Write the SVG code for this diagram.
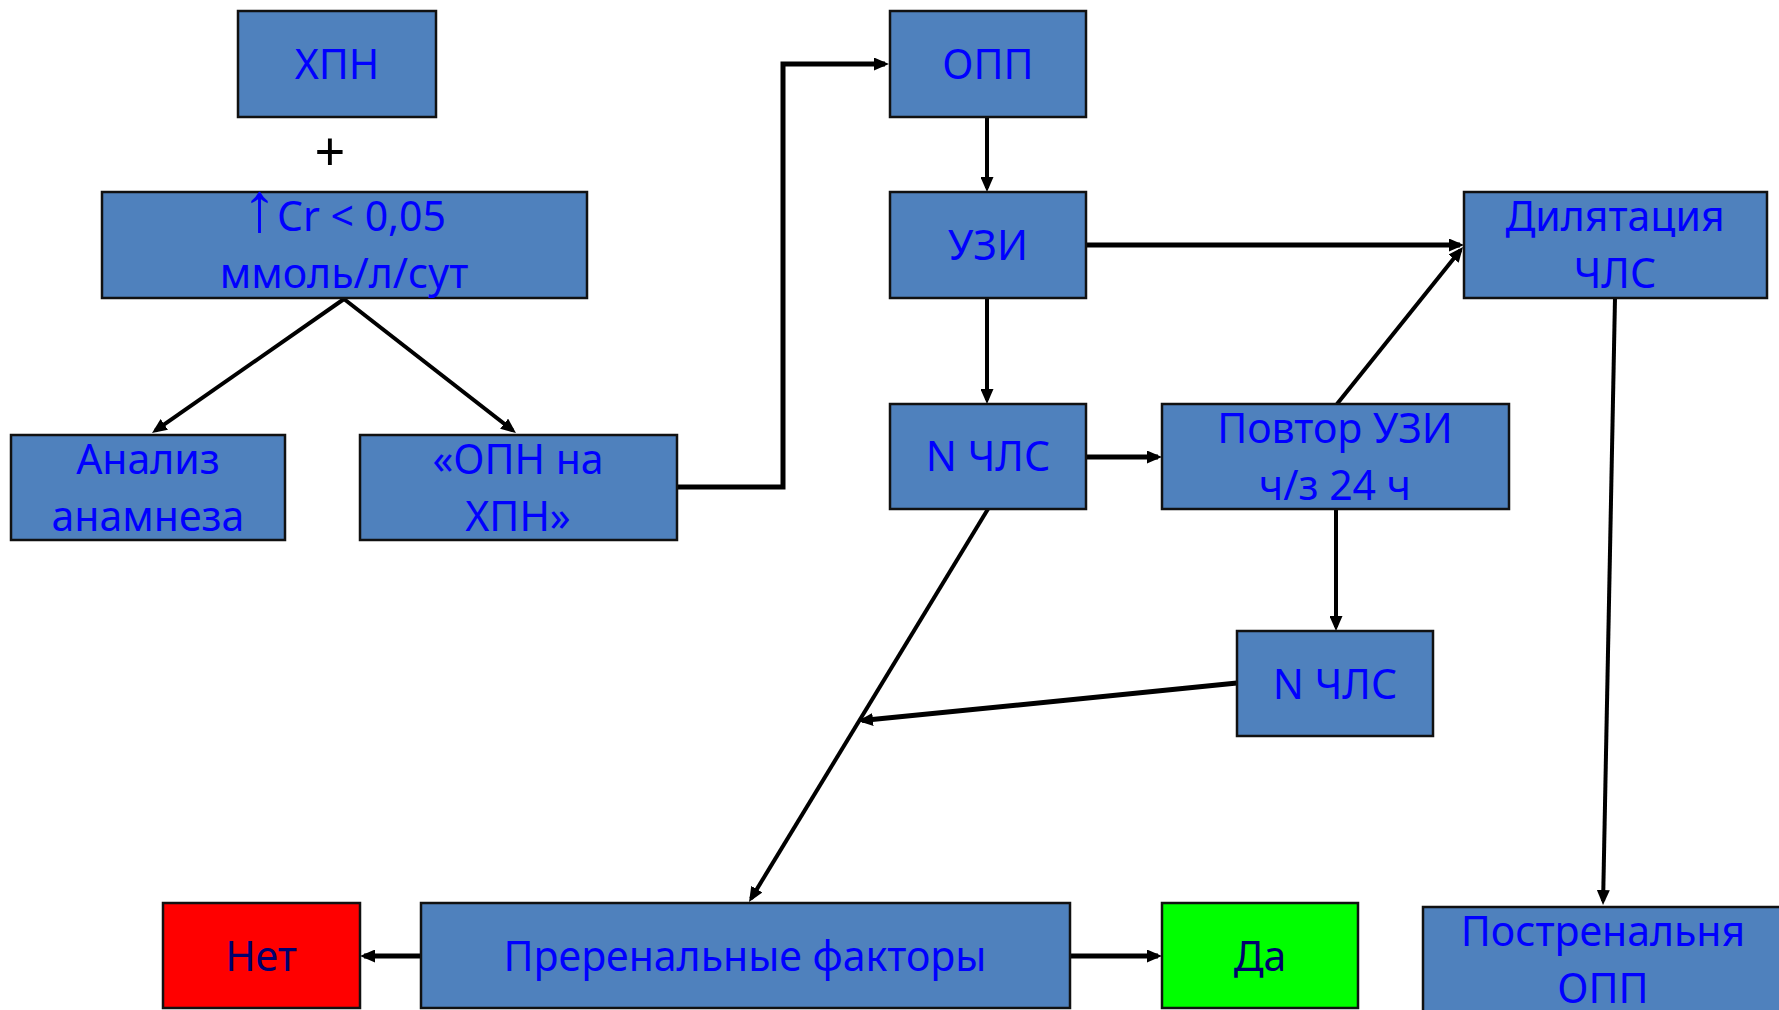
<svg xmlns="http://www.w3.org/2000/svg" width="1779" height="1010" viewBox="0 0 1779 1010">
<style>
.box{fill:#4F81BD;stroke:#111;stroke-width:2.5}
.red{fill:#FF0000;stroke:#111;stroke-width:2.5}
.green{fill:#00FF00;stroke:#111;stroke-width:2.5}
.t{font-family:"Noto Sans","DejaVu Sans",sans-serif;font-size:41px;fill:#0000FF;text-anchor:middle}
.d{fill:#00006E}
.c{fill:none;stroke:#000;stroke-width:4}
.k{stroke-width:5}
</style>
<defs>
<marker id="ah" markerUnits="userSpaceOnUse" markerWidth="15" markerHeight="13" refX="11" refY="6.5" orient="auto" viewBox="0 0 15 13">
<path d="M0,0 L15,6.5 L0,13 z" fill="#000"/>
</marker>
</defs>
<rect width="1779" height="1010" fill="#fff"/>
<g id="connectors">
<path class="c" d="M344,299 L155.3,430.7" marker-end="url(#ah)"/>
<path class="c" d="M344,299 L512.8,430.5" marker-end="url(#ah)"/>
<path class="c k" d="M677,487 H783 V64 H885" marker-end="url(#ah)"/>
<path class="c" d="M987,117 V188" marker-end="url(#ah)"/>
<path class="c" d="M987,298 V400" marker-end="url(#ah)"/>
<path class="c k" d="M1086,245 H1460" marker-end="url(#ah)"/>
<path class="c k" d="M1086,457 H1158" marker-end="url(#ah)"/>
<path class="c" d="M1337,404 L1460.5,250.1" marker-end="url(#ah)"/>
<path class="c" d="M1336,509 V627" marker-end="url(#ah)"/>
<path class="c" d="M988,509 L751.1,898.6" marker-end="url(#ah)"/>
<path class="c k" d="M1237,683 L862,720.6" marker-end="url(#ah)"/>
<path class="c" d="M1615,298 L1603.1,901" marker-end="url(#ah)"/>
<path class="c k" d="M421,956 H364" marker-end="url(#ah)"/>
<path class="c k" d="M1070,956 H1158" marker-end="url(#ah)"/>
</g>
<g id="hpn"><rect class="box" x="238" y="11" width="198" height="106"/><text class="t" x="337" y="79">ХПН</text></g>
<g id="plus"><text x="330" y="171" font-family="Noto Sans, DejaVu Sans, sans-serif" font-size="54" text-anchor="middle" fill="#000">+</text></g>
<g id="cr"><rect class="box" x="102" y="192" width="485" height="106"/><text class="t" x="344" y="231"><tspan font-family="Liberation Sans, sans-serif" font-size="70">↑</tspan>Cr &lt; 0,05</text><text class="t" x="344" y="288">ммоль/л/сут</text></g>
<g id="anamnez"><rect class="box" x="11" y="435" width="274" height="105"/><text class="t" x="148" y="474">Анализ</text><text class="t" x="148" y="531">анамнеза</text></g>
<g id="opn"><rect class="box" x="360" y="435" width="317" height="105"/><text class="t" x="518" y="474">«ОПН на</text><text class="t" x="518" y="531">ХПН»</text></g>
<g id="opp"><rect class="box" x="890" y="11" width="196" height="106"/><text class="t" x="988" y="79">ОПП</text></g>
<g id="uzi"><rect class="box" x="890" y="192" width="196" height="106"/><text class="t" x="988" y="260">УЗИ</text></g>
<g id="nchls1"><rect class="box" x="890" y="404" width="196" height="105"/><text class="t" x="988" y="471">N ЧЛС</text></g>
<g id="povtor"><rect class="box" x="1162" y="404" width="347" height="105"/><text class="t" x="1335" y="443">Повтор УЗИ</text><text class="t" x="1335" y="500">ч/з 24 ч</text></g>
<g id="dilat"><rect class="box" x="1464" y="192" width="303" height="106"/><text class="t" x="1615" y="231">Дилятация</text><text class="t" x="1615" y="288">ЧЛС</text></g>
<g id="nchls2"><rect class="box" x="1237" y="631" width="196" height="105"/><text class="t" x="1335" y="699">N ЧЛС</text></g>
<g id="prerenal"><rect class="box" x="421" y="903" width="649" height="105"/><text class="t" x="745" y="971">Преренальные факторы</text></g>
<g id="net"><rect class="red" x="163" y="903" width="197" height="105"/><text class="t d" x="261" y="971">Нет</text></g>
<g id="da"><rect class="green" x="1162" y="903" width="196" height="105"/><text class="t d" x="1260" y="971">Да</text></g>
<g id="postrenal"><rect class="box" x="1423" y="907" width="370" height="110"/><text class="t" x="1603" y="946">Постренальня</text><text class="t" x="1603" y="1003">ОПП</text></g>
</svg>
